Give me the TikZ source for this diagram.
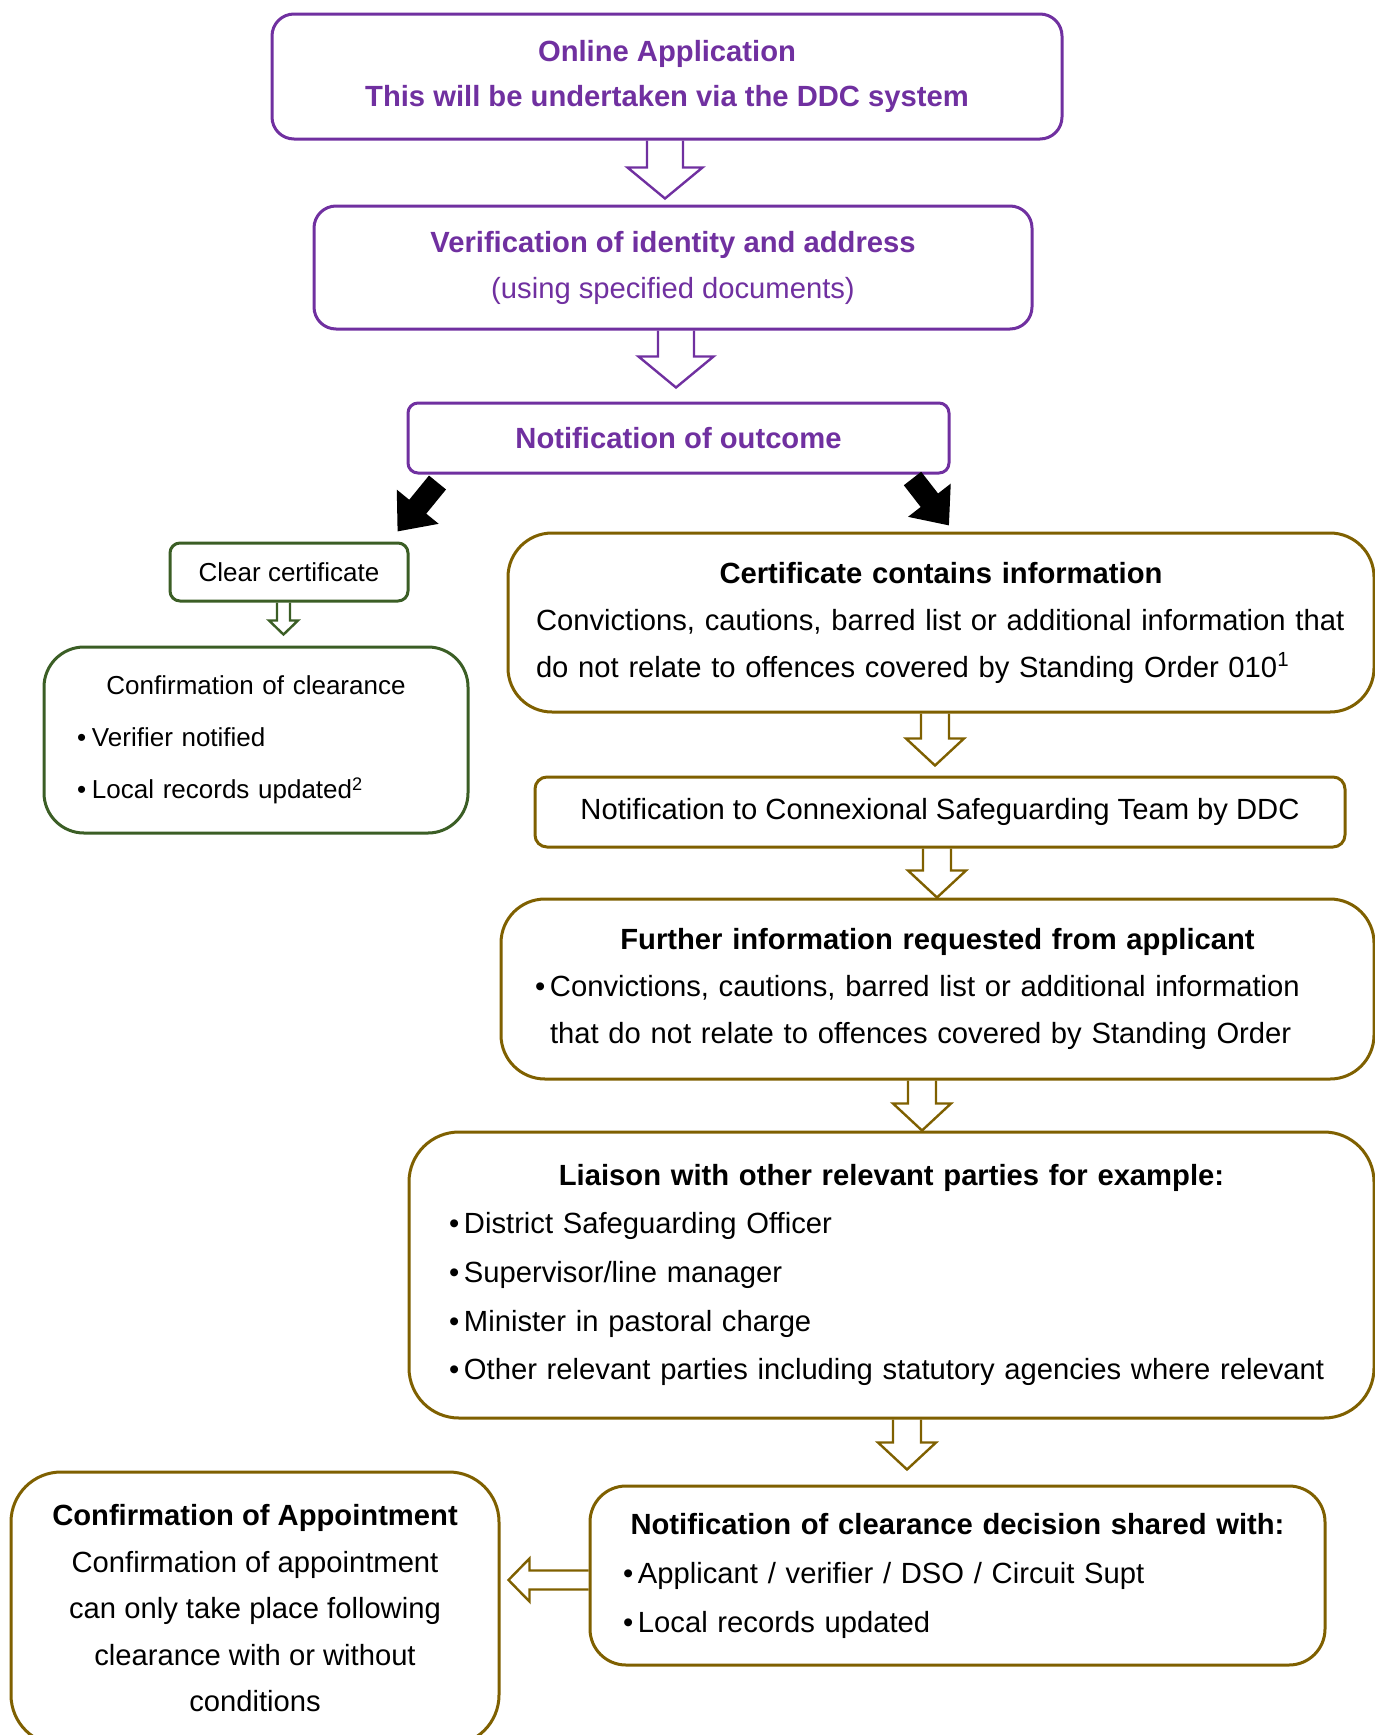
\documentclass[tikz,border=0pt]{standalone}
\usepackage{fontspec}
\setmainfont{Liberation Sans}
\usetikzlibrary{calc,arrows.meta}

\definecolor{dbspurple}{HTML}{7030A0}
\definecolor{dbsgold}{HTML}{7F6000}
\definecolor{dbsgreen}{HTML}{3B5E25}

\setlength{\parindent}{0pt}

\newcommand{\bul}{\makebox[7.5pt][l]{\textbullet}}
\newcommand{\boxtitle}[1]{\hbox to\hsize{\hss\bfseries #1\hss}}

% hollow block arrow pointing down: style, from, to, x, gap
\newcommand{\hollowdown}[5]{%
  \draw[#1] let \p1=(#2.south), \p2=($(#3.north)+(0,-#5)$), \p3=(#4,0) in
    (\x3-\ashaft,\y1) -- (\x3-\ashaft,\y2+\alen) -- (\x3-\ahead,\y2+\alen)
    -- (\x3,\y2) -- (\x3+\ahead,\y2+\alen) -- (\x3+\ashaft,\y2+\alen) -- (\x3+\ashaft,\y1);
}
% hollow block arrow pointing left: style, from, to, y, gap
\newcommand{\hollowleft}[5]{%
  \draw[#1] let \p1=(#2.west), \p2=($(#3.east)+(#5,0)$), \p3=(0,#4) in
    (\x1,\y3+\ashaft) -- (\x2+\alen,\y3+\ashaft) -- (\x2+\alen,\y3+\ahead)
    -- (\x2,\y3) -- (\x2+\alen,\y3-\ahead) -- (\x2+\alen,\y3-\ashaft) -- (\x1,\y3-\ashaft);
}

\tikzset{
  flowbox/.style={draw, line width=1.5pt, fill=white, inner sep=0pt},
  purplebox/.style={flowbox, draw=dbspurple, text=dbspurple, align=center},
  goldbox/.style={flowbox, draw=dbsgold, align=left},
  greenbox/.style={flowbox, draw=dbsgreen, font=\fontsize{13}{26}\selectfont},
  bigarrow/.code={\def\ashaft{9pt}\def\ahead{18.75pt}\def\alen{15.5pt}},
  midarrow/.code={\def\ashaft{7pt}\def\ahead{14.5pt}\def\alen{13.5pt}},
  smallarrow/.code={\def\ashaft{3.25pt}\def\ahead{7.25pt}\def\alen{7pt}},
  sidearrow/.code={\def\ashaft{4.75pt}\def\ahead{10.75pt}\def\alen{10.5pt}},
  hollow/.style={draw=#1, line width=1.2pt, line join=miter},
  blackarrow/.style={line width=11pt, -{Triangle[length=16pt,width=26pt]}},
}

\begin{document}
\begin{tikzpicture}[x=0.5pt,y=-0.5pt]
  \useasboundingbox (0,0) rectangle (1375,1735);
  \clip (0,0) rectangle (1375,1735);

  % application and checks
  \node[purplebox, rounded corners=11pt, minimum width=395pt, minimum height=62.5pt,
        font=\fontsize{14.6}{22.5}\selectfont\bfseries] (online) at (667,76.5)
    {Online Application\\This will be undertaken via the DDC system};
  \node[purplebox, rounded corners=11pt, minimum width=359pt, minimum height=61.5pt,
        font=\fontsize{14.6}{23}\selectfont] (verif) at (673,267.5)
    {\textbf{Verification of identity and address}\\(using specified documents)};
  \node[purplebox, rounded corners=5pt, minimum width=270.5pt, minimum height=35pt,
        font=\fontsize{14.6}{22}\selectfont\bfseries] (outcome) at (678.5,438)
    {Notification of outcome};

  % clear route
  \node[greenbox, rounded corners=5pt, minimum width=119pt, minimum height=29pt] (clear) at (289,572)
    {Clear certificate};
  \node[greenbox, rounded corners=20pt, minimum width=212pt, minimum height=93pt,
        text width=179pt, align=left] (confclear) at (256,740)
    {\hbox to\hsize{\hss Confirmation of clearance\hss}
     \bul Verifier notified\\
     \bul Local records updated\textsuperscript{2}};

  % information route
  \node[goldbox, rounded corners=22pt, minimum width=433pt, minimum height=89.5pt,
        text width=405pt, font=\fontsize{14.6}{23.5}\selectfont] (certinfo) at (941,622.5)
    {\boxtitle{Certificate contains information}
     Convictions, cautions, barred list or additional information that\\
     do not relate to offences covered by Standing Order 010\textsuperscript{1}};
  \node[goldbox, rounded corners=6pt, minimum width=405pt, minimum height=35pt,
        font=\fontsize{14.6}{23.5}\selectfont] (csteam) at (940,812)
    {Notification to Connexional Safeguarding Team by DDC};
  \node[goldbox, rounded corners=22pt, minimum width=436.5pt, minimum height=90pt,
        text width=402.5pt, font=\fontsize{14.6}{23.5}\selectfont] (further) at (937.5,989)
    {\boxtitle{Further information requested from applicant}
     \bul Convictions, cautions, barred list or additional information\\
     \hspace*{7.5pt}that do not relate to offences covered by Standing Order};
  \node[goldbox, rounded corners=25pt, minimum width=482.5pt, minimum height=143pt,
        text width=442.5pt, font=\fontsize{14.6}{24.3}\selectfont] (liaison) at (891.5,1275)
    {\boxtitle{Liaison with other relevant parties for example:}
     \bul District Safeguarding Officer\\
     \bul Supervisor/line manager\\
     \bul Minister in pastoral charge\\
     \bul Other relevant parties including statutory agencies where relevant};
  \node[goldbox, rounded corners=18pt, minimum width=367.5pt, minimum height=89.5pt,
        text width=334.5pt, font=\fontsize{14.6}{24.5}\selectfont] (decision) at (957.5,1575.5)
    {\boxtitle{Notification of clearance decision shared with:}
     \bul Applicant / verifier / DSO / Circuit Supt\\
     \bul Local records updated};
  \node[goldbox, align=center, rounded corners=25pt, minimum width=244pt, minimum height=136.5pt,
        font=\fontsize{14.6}{23.25}\selectfont] (appoint) at (255,1608.5)
    {\textbf{Confirmation of Appointment}\\Confirmation of appointment\\can only take place following\\
     clearance with or without\\conditions};

  % hollow arrows
  \hollowdown{hollow=dbspurple, bigarrow}{online}{verif}{665}{6}
  \hollowdown{hollow=dbspurple, bigarrow}{verif}{outcome}{676}{14}
  \hollowdown{hollow=dbsgreen, smallarrow}{clear}{confclear}{283.5}{11}
  \hollowdown{hollow=dbsgold, midarrow}{certinfo}{csteam}{935}{10}
  \hollowdown{hollow=dbsgold, midarrow}{csteam}{further}{937}{0}
  \hollowdown{hollow=dbsgold, midarrow}{further}{liaison}{922}{0}
  \hollowdown{hollow=dbsgold, midarrow}{liaison}{decision}{907}{15}
  \hollowleft{hollow=dbsgold, sidearrow}{decision}{appoint}{1580}{8}

  % outcome split
  \coordinate (lefttail) at ($(outcome.south west)+(31,8)$);
  \coordinate (lefttip) at ($(clear.north east)+(-12,-10)$);
  \coordinate (righttail) at ($(outcome.south east)+(-38,4)$);
  \coordinate (righttip) at ($(certinfo.north)+(8,-6)$);
  \draw[blackarrow] (lefttail) -- (lefttip);
  \draw[blackarrow] (righttail) -- (righttip);
\end{tikzpicture}
\end{document}
